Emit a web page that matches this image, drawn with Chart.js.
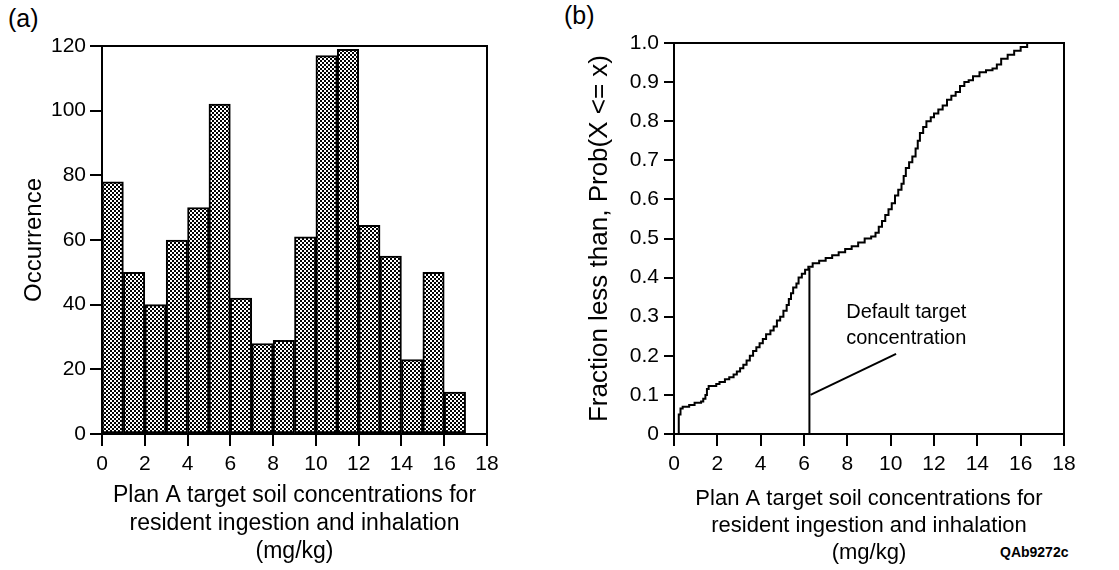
<!DOCTYPE html>
<html>
<head>
<meta charset="utf-8">
<script src="https://cdn.jsdelivr.net/npm/chart.js@4.4.1/dist/chart.umd.min.js"></script>
<style>
  body { margin: 0; background: #fff; width: 1119px; height: 570px; overflow: hidden; position: relative; font-family: "Liberation Sans", Arial, sans-serif; }
  .box { position: absolute; top: 0; height: 570px; }
  .tag { position: absolute; font-size: 25px; color: #000; }
</style>
</head>
<body>
<div class="tag" style="left:8px;top:4px;">(a)</div>
<div class="tag" style="left:564px;top:1px;">(b)</div>
<div class="tag" style="left:1000px;top:544px;font-size:14px;font-weight:bold;">QAb9272c</div>
<div class="box" style="left:0;width:540px;"><canvas id="histChart"></canvas></div>
<div class="box" style="left:560px;width:559px;"><canvas id="cdfChart"></canvas></div>
<script>
  // Histogram (a): one bar per 1 mg/kg bin
  const binStarts = [0, 1, 2, 3, 4, 5, 6, 7, 8, 9, 10, 11, 12, 13, 14, 15, 16];
  const occurrence = [78, 50, 40, 60, 70, 102, 42, 28, 29, 61, 117, 119, 64.5, 55, 23, 50, 13];

  // Cumulative curve (b)
  const cdfX = [0.05, 0.22, 0.3, 0.4, 0.7, 0.95, 1.25, 1.35, 1.45, 1.52, 1.6, 1.95, 2.1, 2.35, 2.55, 2.75, 2.9, 3.05, 3.2, 3.35,
    3.5, 3.65, 3.8, 3.95, 4.1, 4.25, 4.45, 4.6, 4.75, 4.9, 5.05, 5.2, 5.3, 5.4, 5.5, 5.65, 5.75, 5.9, 6.05, 6.2,
    6.4, 6.7, 7.0, 7.3, 7.6, 7.9, 8.2, 8.5, 8.8, 9.1, 9.3, 9.45, 9.6, 9.75, 9.9, 10.05, 10.2, 10.35, 10.5, 10.6,
    10.7, 10.85, 11.0, 11.15, 11.25, 11.35, 11.5, 11.65, 11.85, 12.0, 12.2, 12.4, 12.6, 12.8, 13.0, 13.2, 13.4, 13.6, 13.8, 14.1,
    14.4, 14.7, 14.9, 15.1, 15.4, 15.7, 16.0, 16.3];
  const cdfY = [0, 0.05, 0.065, 0.07, 0.074, 0.08, 0.083, 0.09, 0.1, 0.115, 0.123, 0.128, 0.133, 0.14, 0.145, 0.152, 0.16, 0.168, 0.177, 0.188,
    0.2, 0.212, 0.222, 0.232, 0.243, 0.255, 0.265, 0.275, 0.29, 0.3, 0.315, 0.33, 0.345, 0.36, 0.375, 0.385, 0.4, 0.41, 0.42, 0.428,
    0.437, 0.443, 0.45, 0.457, 0.465, 0.473, 0.48, 0.49, 0.5, 0.505, 0.515, 0.53, 0.545, 0.56, 0.575, 0.59, 0.61, 0.625, 0.64, 0.66,
    0.68, 0.695, 0.71, 0.73, 0.75, 0.77, 0.785, 0.8, 0.81, 0.82, 0.83, 0.84, 0.855, 0.865, 0.875, 0.89, 0.9, 0.905, 0.915, 0.925,
    0.93, 0.935, 0.945, 0.96, 0.97, 0.98, 0.99, 1.0];

  const defaultTarget = 6.25;      // vertical marker
  const defaultTargetTop = 0.425;
  const pointerLine = [[6.3, 0.1], [10.25, 0.205]];
  const noteLines = ['Default target', 'concentration'];
  const noteAt = [7.95, 0.31];

  const xTitle = ['Plan A target soil concentrations for', 'resident ingestion and inhalation', '(mg/kg)'];
  const FONT = '"Liberation Sans", Arial, sans-serif';

  // checkered fill for the bars
  function makePattern() {
    const c = document.createElement('canvas');
    c.width = 4; c.height = 4;
    const g = c.getContext('2d');
    g.fillStyle = '#fff';
    g.fillRect(0, 0, 4, 4);
    g.fillStyle = '#000';
    g.fillRect(0, 0, 2, 2);
    g.fillRect(2, 2, 2, 2);
    return g.createPattern(c, 'repeat');
  }

  // draw the box around the plot area
  const frame = {
    id: 'frame',
    afterDraw(chart) {
      const a = chart.chartArea, ctx = chart.ctx;
      ctx.save();
      ctx.strokeStyle = '#000';
      ctx.lineWidth = 2;
      ctx.strokeRect(a.left, a.top, a.right - a.left, a.bottom - a.top);
      ctx.restore();
    }
  };

  function xAxis(titleSize) {
    return {
      type: 'linear', min: 0, max: 18, offset: false,
      afterFit: s => { s.height = 136; },
      ticks: { stepSize: 2, color: '#000', padding: 6, maxRotation: 0, font: { family: FONT, size: 21 } },
      grid: { drawOnChartArea: false, offset: false, color: '#000', lineWidth: 2, tickLength: 12 },
      border: { color: '#000', width: 2 },
      title: { display: true, text: xTitle, color: '#000', padding: { top: 2 }, font: { family: FONT, size: titleSize, lineHeight: 1.22 } }
    };
  }

  const histCtx = document.getElementById('histChart').getContext('2d');
  new Chart(histCtx, {
    type: 'bar',
    data: {
      datasets: [{
        data: binStarts.map((b, i) => ({ x: b + 0.5, y: occurrence[i] })),
        backgroundColor: makePattern(),
        borderColor: '#000',
        borderWidth: 2,
        borderSkipped: false,
        barPercentage: 1,
        categoryPercentage: 1
      }]
    },
    options: {
      responsive: true, maintainAspectRatio: false, animation: false,
      layout: { padding: { left: 0, right: 53, top: 46, bottom: 0 } },
      plugins: { legend: { display: false }, tooltip: { enabled: false } },
      scales: {
        x: xAxis(23),
        y: {
          min: 0, max: 120,
          afterFit: s => { s.width = 102; },
          ticks: { stepSize: 20, color: '#000', padding: 4, font: { family: FONT, size: 21 } },
          grid: { drawOnChartArea: false, color: '#000', lineWidth: 2, tickLength: 12 },
          border: { color: '#000', width: 2 },
          title: { display: true, text: 'Occurrence', color: '#000', padding: { top: 20, bottom: 0 }, font: { family: FONT, size: 24 } }
        }
      }
    },
    plugins: [frame]
  });

  // text note next to the pointer line
  const note = {
    id: 'note',
    afterDraw(chart) {
      const x = chart.scales.x, y = chart.scales.y, ctx = chart.ctx;
      ctx.save();
      ctx.fillStyle = '#000';
      ctx.font = '20px ' + FONT;
      ctx.textBaseline = 'middle';
      noteLines.forEach((t, i) => ctx.fillText(t, x.getPixelForValue(noteAt[0]), y.getPixelForValue(noteAt[1]) + i * 26));
      ctx.restore();
    }
  };

  const cdfCtx = document.getElementById('cdfChart').getContext('2d');
  new Chart(cdfCtx, {
    type: 'line',
    data: {
      datasets: [
        {
          data: cdfX.map((v, i) => ({ x: v, y: cdfY[i] })),
          stepped: true,
          borderColor: '#000', borderWidth: 2, pointRadius: 0, fill: false
        },
        {
          data: [{ x: defaultTarget, y: 0 }, { x: defaultTarget, y: defaultTargetTop }],
          borderColor: '#000', borderWidth: 2, pointRadius: 0, fill: false
        },
        {
          data: pointerLine.map(p => ({ x: p[0], y: p[1] })),
          borderColor: '#000', borderWidth: 2, pointRadius: 0, fill: false
        }
      ]
    },
    options: {
      responsive: true, maintainAspectRatio: false, animation: false,
      layout: { padding: { left: 0, right: 55, top: 43, bottom: 0 } },
      plugins: { legend: { display: false }, tooltip: { enabled: false } },
      scales: {
        x: xAxis(22),
        y: {
          min: 0, max: 1,
          afterFit: s => { s.width = 114; },
          ticks: { stepSize: 0.1, color: '#000', padding: 5, font: { family: FONT, size: 21 },
            callback: v => v === 0 ? '0' : v.toFixed(1) },
          grid: { drawOnChartArea: false, color: '#000', lineWidth: 2, tickLength: 10 },
          border: { color: '#000', width: 2 },
          title: { display: true, text: 'Fraction less than, Prob(X <= x)', color: '#000', padding: { top: 24, bottom: 0 }, font: { family: FONT, size: 26 } }
        }
      }
    },
    plugins: [frame, note]
  });
</script>
</body>
</html>
